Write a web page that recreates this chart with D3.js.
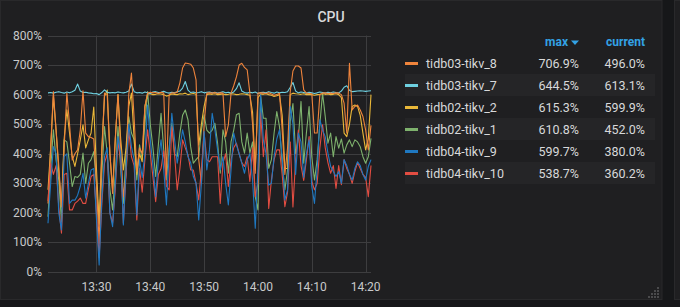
<!DOCTYPE html>
<html>
<head>
<meta charset="utf-8">
<script src="https://cdn.jsdelivr.net/npm/d3@7"></script>
<style>
  html, body { margin: 0; padding: 0; background: #161719; }
  svg { display: block; }
</style>
</head>
<body>
<script>

// DATI (un punto ogni 30 secondi, dalle 13:21 alle 14:21)

var startTime = "13:21:00";
var stepSeconds = 30;

var seriesNames = ["tidb02-tikv_1", "tidb02-tikv_2", "tidb03-tikv_7", "tidb03-tikv_8", "tidb04-tikv_10", "tidb04-tikv_9"];
var seriesColors = ["#7eb26d", "#eab839", "#6ed0e0", "#ef843c", "#e24d42", "#1f78c1"];

var tikv1 = [
  187, 350, 481, 380, 311, 170, 447, 440, 368, 289,
  323, 320, 330, 402, 300, 368, 380, 407, 300, 160,
  330, 492, 400, 280, 210, 330, 492, 350, 232, 400,
  526, 470, 447, 311, 430, 380, 500, 610.8, 500, 420,
  323, 430, 537, 413, 311, 420, 503, 400, 390, 470,
  530, 548, 515, 424, 368, 380, 390, 480, 532, 480,
  470, 480, 503, 436, 334, 481, 440, 334, 440, 480,
  532, 537, 440, 402, 470, 402, 440, 255, 210, 594,
  520, 520, 351, 380, 470, 543, 492, 368, 278, 345,
  510, 570, 400, 450, 577, 368, 470, 560, 390, 311,
  380, 500, 605, 526, 436, 470, 390, 458, 419, 450,
  402, 430, 447, 424, 447, 440, 424, 390, 368, 390,
  452
];

var tikv2 = [
  278, 420, 594, 480, 340, 221, 450, 549, 470, 390,
  357, 400, 447, 498, 420, 447, 470, 558, 350, 165,
  420, 594, 615.3, 400, 278, 450, 600, 450, 345, 420,
  560, 605, 450, 330, 400, 373, 560, 602, 603, 600,
  601, 603, 602, 600, 595, 598, 602, 601, 600, 603,
  602, 605, 600, 602, 604, 601, 430, 500, 560, 600,
  602, 601, 603, 600, 601, 602, 600, 601, 603, 602,
  600, 601, 603, 602, 600, 598, 540, 345, 590, 602,
  601, 603, 600, 598, 594, 596, 600, 530, 350, 350,
  600, 605, 603, 602, 601, 603, 600, 601, 600, 598,
  600, 601, 603, 601, 602, 600, 601, 603, 600, 590,
  470, 458, 500, 560, 565, 560, 530, 470, 413, 450,
  599.9
];

var tikv7 = [
  606, 607, 605, 608, 610, 607, 605, 609, 606, 610,
  615, 636, 612, 607, 608, 606, 605, 603, 604, 600,
  607, 616, 608, 606, 607, 606, 609, 607, 606, 608,
  612, 636, 610, 606, 607, 605, 609, 606, 604, 609,
  610, 607, 608, 611, 607, 605, 608, 606, 610, 612,
  622, 644.5, 615, 607, 609, 606, 607, 610, 606, 608,
  609, 606, 608, 605, 607, 610, 606, 608, 605, 609,
  620, 640, 612, 607, 605, 608, 606, 609, 604, 607,
  608, 606, 610, 607, 605, 609, 606, 608, 607, 610,
  625, 641, 612, 606, 609, 607, 605, 608, 606, 604,
  606, 609, 607, 605, 608, 606, 609, 607, 606, 612,
  625, 630, 615, 610, 611, 612, 613, 612, 611, 612,
  613.1
];

var tikv8 = [
  232, 420, 610, 480, 360, 221, 420, 605, 500, 379,
  400, 413, 480, 613, 470, 458, 455, 450, 300, 97,
  400, 605, 600, 400, 266, 450, 600, 420, 255, 330,
  600, 673, 520, 340, 420, 400, 560, 605, 608, 606,
  607, 604, 608, 605, 330, 600, 606, 605, 608, 640,
  690, 706.9, 705, 703, 690, 650, 380, 300, 500, 605,
  606, 605, 607, 604, 606, 605, 458, 498, 605, 630,
  660, 700, 706, 692, 684, 605, 500, 334, 605, 606,
  605, 604, 606, 602, 598, 600, 605, 481, 330, 420,
  610, 680, 697, 697, 690, 616, 605, 604, 603, 470,
  470, 600, 605, 606, 604, 605, 604, 606, 605, 600,
  571, 470, 706, 548, 560, 565, 548, 526, 481, 413,
  496
];

var tikv9 = [
  165, 300, 424, 400, 200, 142, 390, 400, 232, 243,
  243, 260, 290, 334, 250, 300, 345, 350, 180, 24,
  250, 390, 420, 200, 153, 300, 458, 400, 159, 350,
  500, 424, 380, 193, 380, 320, 400, 565, 447, 360,
  255, 380, 447, 345, 227, 400, 537, 450, 368, 420,
  481, 440, 390, 370, 323, 300, 176, 300, 475, 345,
  413, 537, 481, 413, 345, 390, 300, 227, 345, 470,
  430, 400, 368, 334, 379, 400, 311, 148, 350, 599.7,
  447, 400, 294, 300, 390, 450, 481, 390, 244, 278,
  560, 500, 330, 470, 440, 320, 400, 447, 289, 232,
  350, 515, 480, 458, 402, 357, 340, 323, 340, 300,
  380, 360, 330, 311, 350, 373, 360, 330, 311, 357,
  380
];

var tikv10 = [
  240, 368, 330, 360, 220, 131, 330, 334, 210, 210,
  232, 240, 250, 232, 232, 280, 323, 330, 200, 50,
  230, 368, 400, 200, 165, 280, 440, 380, 165, 330,
  480, 390, 360, 176, 350, 270, 380, 481, 400, 320,
  238, 330, 350, 410, 290, 278, 492, 400, 278, 350,
  447, 420, 396, 345, 345, 300, 244, 350, 470, 380,
  373, 390, 390, 390, 232, 368, 400, 289, 380, 420,
  436, 400, 370, 357, 390, 306, 420, 255, 300, 538.7,
  390, 481, 215, 311, 380, 413, 413, 330, 221, 270,
  440, 220, 380, 480, 360, 310, 380, 458, 306, 278,
  300, 420, 498, 420, 370, 334, 360, 283, 360, 295,
  380, 350, 330, 300, 340, 370, 350, 330, 320, 255,
  360.2
];

var seriesValues = [tikv1, tikv2, tikv7, tikv8, tikv10, tikv9];

var yTicks = [0, 100, 200, 300, 400, 500, 600, 700, 800];
var xTickLabels = ["13:30", "13:40", "13:50", "14:00", "14:10", "14:20"];
var timeDomain = ["13:21:00", "14:21:00"];


// INIZIALIZZA L'SVG

var width = 680, height = 307;
var plotLeft = 48, plotRight = 371, plotTop = 35.5, plotBottom = 272;
var font = "Roboto, 'Helvetica Neue', Arial, sans-serif";

var svg = d3.select("body")
    .append("svg")
    .attr("width", width)
    .attr("height", height);

var parseTime = d3.timeParse("%H:%M:%S");
var parseTick = d3.timeParse("%H:%M");
var t0 = parseTime(startTime);

var x = d3.scaleTime()
    .domain(timeDomain.map(parseTime))
    .range([plotLeft, plotRight]);

var y = d3.scaleLinear()
    .domain([0, 800])
    .range([plotBottom, plotTop]);


// PANNELLI

svg.append("rect")
    .attr("x", 0.5).attr("y", 0.5)
    .attr("width", 661.5).attr("height", 299)
    .attr("fill", "#1f1f21")
    .attr("stroke", "#29292b");

svg.append("rect")
    .attr("x", 674.5).attr("y", 0.5)
    .attr("width", 20).attr("height", 299)
    .attr("fill", "#1f1f21")
    .attr("stroke", "#29292b");

svg.append("text")
    .attr("x", 331)
    .attr("y", 22)
    .attr("text-anchor", "middle")
    .attr("fill", "#d8d9da")
    .attr("font-family", font)
    .attr("font-size", "14px")
    .attr("font-weight", 500)
    .text("CPU");


// GRIGLIA E ASSI

var grid = svg.append("g");

grid.selectAll("line.h")
    .data(yTicks)
    .enter().append("line")
    .attr("x1", plotLeft).attr("x2", plotRight)
    .attr("y1", function(d) { return Math.round(y(d)) + 0.5; })
    .attr("y2", function(d) { return Math.round(y(d)) + 0.5; })
    .attr("stroke", "#3d3d3f");

grid.selectAll("line.v")
    .data(xTickLabels)
    .enter().append("line")
    .attr("x1", function(d) { return Math.round(x(parseTick(d))) + 0.5; })
    .attr("x2", function(d) { return Math.round(x(parseTick(d))) + 0.5; })
    .attr("y1", plotTop).attr("y2", plotBottom)
    .attr("stroke", "#3d3d3f");

svg.selectAll("text.ytick")
    .data(yTicks)
    .enter().append("text")
    .attr("x", 42)
    .attr("y", function(d) { return y(d) + 4; })
    .attr("text-anchor", "end")
    .attr("fill", "#c8c9ca")
    .attr("font-family", font)
    .attr("font-size", "12px")
    .text(function(d) { return d + "%"; });

svg.selectAll("text.xtick")
    .data(xTickLabels)
    .enter().append("text")
    .attr("x", function(d) { return x(parseTick(d)); })
    .attr("y", 291)
    .attr("text-anchor", "middle")
    .attr("fill", "#c8c9ca")
    .attr("font-family", font)
    .attr("font-size", "12px")
    .text(function(d) { return d; });


// LINEE

var line = d3.line()
    .x(function(d, i) { return x(new Date(t0.getTime() + i * stepSeconds * 1000)); })
    .y(function(d) { return y(d); });

svg.append("g")
    .selectAll("path")
    .data(seriesValues)
    .enter().append("path")
    .attr("d", line)
    .attr("fill", "none")
    .attr("stroke", function(d, i) { return seriesColors[i]; })
    .attr("stroke-width", 1.1)
    .attr("stroke-linejoin", "round");


// LEGENDA (ordinata per max)

var legendData = seriesNames.map(function(n, i) {
    var v = seriesValues[i];
    return { name: n, color: seriesColors[i], max: d3.max(v), current: v[v.length - 1] };
}).sort(function(a, b) { return b.max - a.max; });

var fmt = function(v) { return d3.format(".1f")(v) + "%"; };

var legend = svg.append("g");

legend.append("text")
    .attr("x", 568).attr("y", 46)
    .attr("text-anchor", "end")
    .attr("fill", "#33a2e5")
    .attr("font-family", font)
    .attr("font-size", "12px")
    .attr("font-weight", 700)
    .text("max");

legend.append("path")
    .attr("d", "M571,40.5 L579,40.5 L575,45 Z")
    .attr("fill", "#33a2e5");

legend.append("text")
    .attr("x", 645).attr("y", 46)
    .attr("text-anchor", "end")
    .attr("fill", "#33a2e5")
    .attr("font-family", font)
    .attr("font-size", "12px")
    .attr("font-weight", 700)
    .text("current");

var rows = legend.selectAll("g.row")
    .data(legendData)
    .enter().append("g")
    .attr("transform", function(d, i) { return "translate(0," + (52 + i * 22) + ")"; });

rows.filter(function(d, i) { return i % 2 == 1; })
    .append("rect")
    .attr("x", 405).attr("y", 0)
    .attr("width", 250).attr("height", 22)
    .attr("fill", "#252527");

rows.append("rect")
    .attr("x", 405).attr("y", 10)
    .attr("width", 13).attr("height", 3)
    .attr("fill", function(d) { return d.color; });

rows.append("text")
    .attr("x", 426).attr("y", 15.5)
    .attr("fill", "#d8d9da")
    .attr("font-family", font)
    .attr("font-size", "12.5px")
    .text(function(d) { return d.name; });

rows.append("text")
    .attr("x", 579).attr("y", 15.5)
    .attr("text-anchor", "end")
    .attr("fill", "#d8d9da")
    .attr("font-family", font)
    .attr("font-size", "12.5px")
    .text(function(d) { return fmt(d.max); });

rows.append("text")
    .attr("x", 645).attr("y", 15.5)
    .attr("text-anchor", "end")
    .attr("fill", "#d8d9da")
    .attr("font-family", font)
    .attr("font-size", "12.5px")
    .text(function(d) { return fmt(d.current); });


// MANIGLIA DI RIDIMENSIONAMENTO

var dots = [[657, 287], [654, 290], [657, 290], [651, 293], [654, 293], [657, 293], [648, 296], [651, 296], [654, 296], [657, 296]];

svg.selectAll("rect.dot")
    .data(dots)
    .enter().append("rect")
    .attr("x", function(d) { return d[0]; })
    .attr("y", function(d) { return d[1]; })
    .attr("width", 2).attr("height", 2)
    .attr("fill", "#4a4a4c");

</script>
</body>
</html>
